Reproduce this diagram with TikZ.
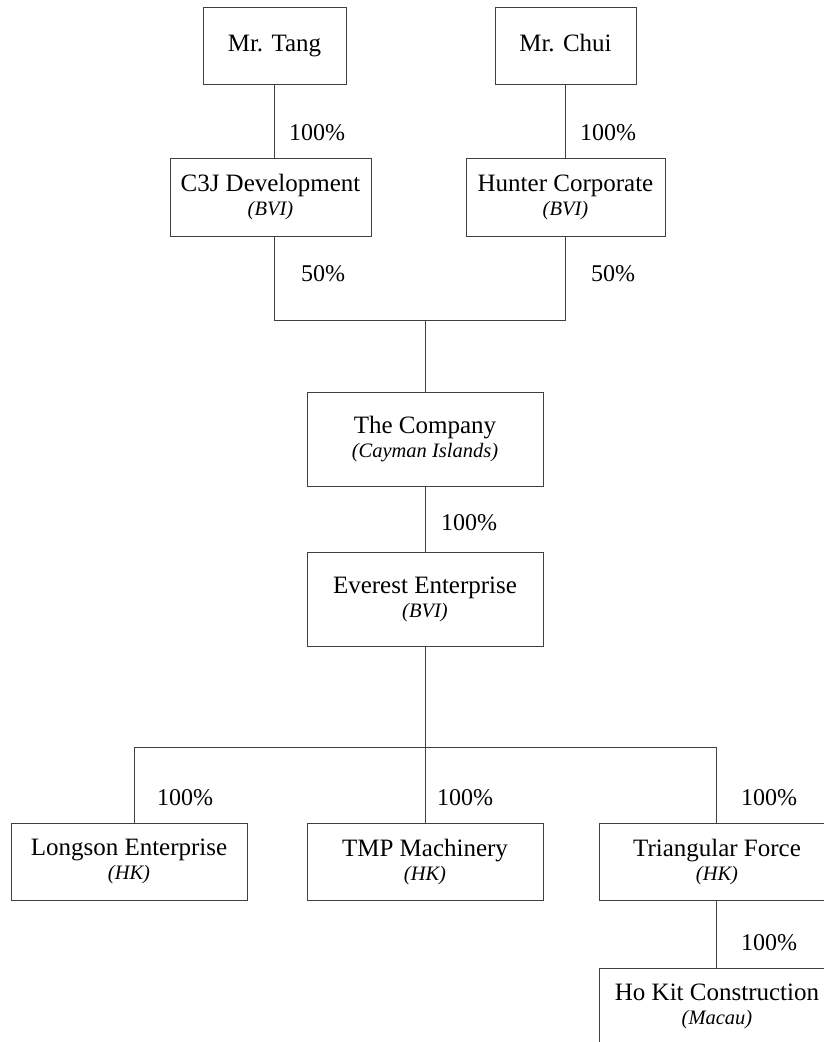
\documentclass[tikz,border=0pt]{standalone}
\usepackage{fontspec}
\setmainfont{Liberation Serif}
\begin{document}
\begin{tikzpicture}[x=1pt,y=-1pt,
  box/.style={draw=black!75,line width=0.9pt,rectangle,inner sep=0pt,align=center,
    font=\fontsize{25}{28}\selectfont},
  pct/.style={anchor=west,inner sep=0pt,font=\fontsize{24}{28}\selectfont},
  link/.style={draw=black!75,line width=0.9pt}]
\useasboundingbox (0,0) rectangle (823,1042);
\newcommand{\sub}[1]{{\fontsize{20.5}{28}\selectfont\itshape #1}}
% boxes
\node[box,minimum width=143,minimum height=77] (tang) at (274.5,45.5) {\strut Mr. Tang};
\node[box,minimum width=141,minimum height=77] (chui) at (565.5,45.5) {\strut Mr. Chui};
\node[box,minimum width=201,minimum height=78] (c3j) at (270.5,197) {C3J Development\\[-4pt]\sub{(BVI)}};
\node[box,minimum width=199,minimum height=78] (hunter) at (565.5,197) {Hunter Corporate\\[-4pt]\sub{(BVI)}};
\node[box,minimum width=236,minimum height=94] (company) at (425,439) {The Company\\[-4pt]\sub{(Cayman Islands)}};
\node[box,minimum width=236,minimum height=94] (everest) at (425,599) {Everest Enterprise\\[-4pt]\sub{(BVI)}};
\node[box,minimum width=236,minimum height=77] (longson) at (129,861.5) {Longson Enterprise\\[-4pt]\sub{(HK)}};
\node[box,minimum width=236,minimum height=77] (tmp) at (425,861.5) {TMP Machinery\\[-4pt]\sub{(HK)}};
\node[box,minimum width=236,minimum height=77] (tri) at (717,861.5) {Triangular Force\\[-4pt]\sub{(HK)}};
\node[box,minimum width=236,minimum height=77] (hokit) at (717,1006.5) {Ho Kit Construction\\[-4pt]\sub{(Macau)}};
% junction coordinates
\coordinate (jl) at (274,320);
\coordinate (jr) at (565,320);
\coordinate (jm) at (425,320);
\coordinate (bl) at (134,747);
\coordinate (bm) at (425,747);
\coordinate (br) at (716,747);
% connectors
\draw[link] (tang.south -| 274,0) -- (c3j.north -| 274,0);
\draw[link] (chui.south) -- (hunter.north -| chui.south);
\draw[link] (c3j.south -| jl) -- (jl) -- (jr) -- (hunter.south -| jr);
\draw[link] (jm) -- (company.north);
\draw[link] (company.south) -- (everest.north);
\draw[link] (everest.south) -- (bm);
\draw[link] (bl) -- (br);
\draw[link] (bl) -- (longson.north -| bl);
\draw[link] (bm) -- (tmp.north);
\draw[link] (br) -- (tri.north -| br);
\draw[link] (tri.south -| br) -- (hokit.north -| br);
% labels
\node[pct] (p1) at (289,133) {100\%};
\node[pct] (p2) at (580,133) {100\%};
\node[pct] (p3) at (301,274) {50\%};
\node[pct] (p4) at (591,274) {50\%};
\node[pct] (p5) at (441,523) {100\%};
\node[pct] (p6) at (157,798) {100\%};
\node[pct] (p7) at (437,798) {100\%};
\node[pct] (p8) at (741,798) {100\%};
\node[pct] (p9) at (741,943) {100\%};
\end{tikzpicture}
\end{document}
